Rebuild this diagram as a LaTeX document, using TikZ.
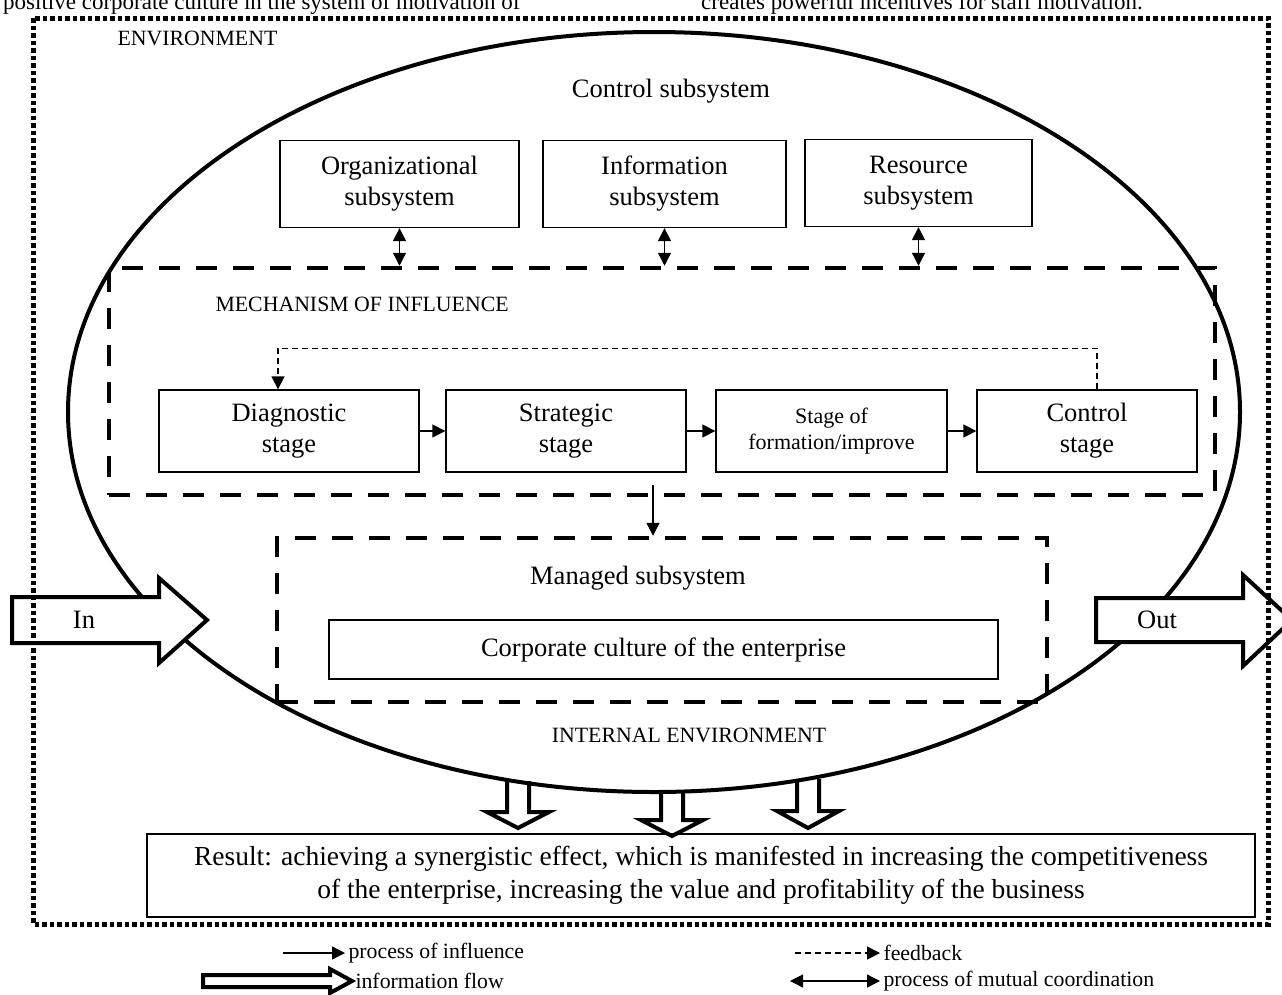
\documentclass[tikz,border=0pt]{standalone}
\usepackage{fontspec}
\setmainfont{Liberation Serif}
\usetikzlibrary{arrows.meta}
\begin{document}
\begin{tikzpicture}[x=1pt,y=-1pt,>={Triangle[length=13pt,width=13pt]},line join=miter,
	font=\fontsize{26.5}{31}\selectfont,
	box/.style={draw,line width=1.3pt,align=center,inner sep=0pt},
	small/.style={font=\fontsize{21.8}{25}\selectfont},
	bigdash/.style={draw,line width=4.5pt,dash pattern=on 21pt off 16pt},
	fb/.style={line width=1.3pt,dash pattern=on 6pt off 4pt},
	conn/.style={line width=1.3pt},
	flow/.style={draw,line width=4pt,fill=white},
	hollow/.style={draw,line width=4pt}]
	\useasboundingbox (0,0) rectangle (1282,994);
	% text of the page, cut at the top
	\node[anchor=base west,inner sep=0pt,font=\fontsize{23}{28}\selectfont] (captl) at (3,9) {positive corporate culture in the system of motivation of};
	\node[anchor=base west,inner sep=0pt,font=\fontsize{23}{28}\selectfont] (captr) at (701,9) {creates powerful incentives for staff motivation.};
	% internal environment
	\draw[line width=4pt] (654,412) ellipse [x radius=586pt,y radius=380pt];
	\node[small,anchor=west] (env) at (114,38) {ENVIRONMENT};
	\node (ctitle) at (671,91) {Control subsystem};
	\node[box,minimum width=239pt,minimum height=87pt] (org) at (399.5,184) {Organizational\\subsystem};
	\node[box,minimum width=243pt,minimum height=87pt] (info) at (664.5,184) {Information\\subsystem};
	\node[box,minimum width=227pt,minimum height=87pt] (res) at (918.5,183) {Resource\\subsystem};
	% mechanism of influence
	\node[bigdash,minimum width=1106pt,minimum height=227pt] (mech) at (662,381.5) {};
	\node[small,anchor=west] (mtitle) at (212,304) {MECHANISM OF INFLUENCE};
	\foreach \b in {org,info,res}{
		\draw[conn,<->] (\b.south) -- (\b.south |- mech.north);
	}
	\node[box,minimum width=260pt,minimum height=82pt] (diag) at (289,431) {Diagnostic\\stage};
	\node[box,minimum width=240pt,minimum height=82pt] (strat) at (566,431) {Strategic\\stage};
	\node[box,minimum width=231pt,minimum height=82pt,font=\fontsize{22}{26}\selectfont] (form) at (831.5,431) {Stage of\\formation/improve};
	\node[box,minimum width=220pt,minimum height=82pt] (ctrl) at (1087,431) {Control\\stage};
	\draw[conn,->] (diag) -- (strat);
	\draw[conn,->] (strat) -- (form);
	\draw[conn,->] (form) -- (ctrl);
	\draw[fb,->] ([xshift=10pt]ctrl.north) -- ++(0,-41) -| ([xshift=-11pt]diag.north);
	% managed subsystem
	\node[bigdash,minimum width=770pt,minimum height=164pt] (managed) at (662,620) {};
	\draw[conn,->] ([xshift=-9pt,yshift=12pt]mech.south) -- ([xshift=-9pt]managed.north);
	\node (gtitle) at (638,578) {Managed subsystem};
	\node[box,minimum width=669pt,minimum height=59pt] (culture) at (663.5,649.5) {Corporate culture of the enterprise};
	\node[small] (ienv) at (689,735) {INTERNAL ENVIRONMENT};
	% in and out
	\draw[flow] (12,597) -- (159,597) -- (159,578) -- (207,620) -- (159,663) -- (159,643) -- (12,643) -- cycle;
	\draw[flow] (1096,598) -- (1243,598) -- (1243,575) -- (1292,620) -- (1243,666) -- (1243,642) -- (1096,642) -- cycle;
	\node (in) at (84,620) {In};
	\node (out) at (1157,620) {Out};
	% result
	\foreach \c/\t/\b/\p in {518/781/812/828,672/792/820/836,808/779/811/828}{
		\draw[hollow] (\c-11,\t) -- (\c-11,\b) -- (\c-31,\b) -- (\c,\p) -- (\c+31,\b) -- (\c+11,\b) -- (\c+11,\t);
	}
	\node[box,minimum width=1108pt,minimum height=83pt,font=\fontsize{27.5}{33}\selectfont] (result) at (701,875.5) {Result: achieving a synergistic effect, which is manifested in increasing the competitiveness\\of the enterprise, increasing the value and profitability of the business};
	\draw[line width=5pt,dash pattern=on 4.5pt off 3pt] (33,18) rectangle (1268,924);
	% legend
	\node[small,anchor=west] (lgi) at (345,953) {process of influence};
	\draw[conn,->] ([xshift=-62pt]lgi.west) -- (lgi.west);
	\node[small,anchor=west] (lgf) at (352,981) {information flow};
	\draw[line width=4pt] (203,975) -- (330,975) -- (330,969) -- (352,981) -- (330,993) -- (330,987) -- (203,987) -- cycle;
	\node[small,anchor=west] (lfb) at (880,953) {feedback};
	\draw[fb,->] ([xshift=-85pt]lfb.west) -- (lfb.west);
	\node[small,anchor=west] (lco) at (880,981) {process of mutual coordination};
	\draw[conn,<->] ([xshift=-90pt]lco.west) -- (lco.west);
\end{tikzpicture}
\end{document}
